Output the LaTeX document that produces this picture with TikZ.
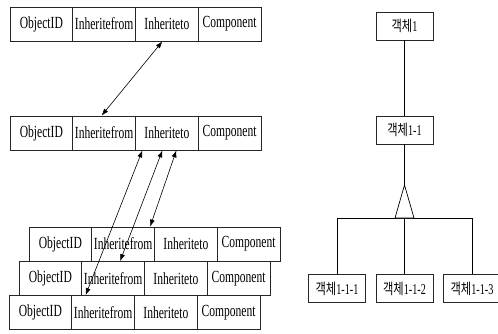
\documentclass[tikz,border=0pt]{standalone}
\usepackage{fontspec}
\setmainfont{Liberation Serif}[FakeStretch=0.68]
\newfontfamily\krfont{Noto Sans CJK KR}[FakeStretch=0.75]
\usetikzlibrary{arrows.meta,calc}
\tikzset{
  fld/.style={draw=black!85, line width=0.8pt, minimum width=62.75pt, minimum height=34pt,
    inner sep=0pt, font=\fontsize{17}{17}\selectfont},
  obj/.style={draw=black!85, line width=0.8pt, minimum width=57pt, minimum height=28pt,
    inner sep=0pt, font=\fontsize{15}{15}\selectfont},
  dbl/.style={{Latex[length=7pt,width=5pt]}-{Latex[length=7pt,width=5pt]}, line width=0.6pt},
  link/.style={line width=0.7pt},
}
\newcommand\fieldrow[3]{%
  \node[fld] (#1a) at (#2+31.375,#3) {ObjectID};
  \node[fld] (#1b) at (#2+94.125,#3) {Inheritefrom};
  \node[fld] (#1c) at (#2+156.875,#3) {Inheriteto};
  \node[fld] (#1d) at (#2+219.625,#3) {Component};
}
\begin{document}
\begin{tikzpicture}[x=1pt,y=-1pt]
\useasboundingbox (0,0) rectangle (498,334);
% left: record rows
\fieldrow{ra}{10}{24}
\fieldrow{rb}{10}{133}
\fieldrow{rA}{29}{244}
\fieldrow{rB}{19}{278.5}
\fieldrow{rC}{9}{312.5}
\draw[dbl] ([xshift=-2.5pt]rbb.north) -- ([xshift=-4.5pt]rac.south);
\draw[dbl] ([xshift=-24.5pt]rbc.south) -- ([xshift=-17.5pt]rCb.north);
\draw[dbl] ([xshift=-4.5pt]rbc.south) -- ([xshift=7pt]rBb.north);
\draw[dbl] ([xshift=9.5pt]rbc.south) -- ([xshift=27pt]rAb.north);
% right: object hierarchy
\node[obj] (k1) at (404.5,26) {{\krfont 객체}1};
\node[obj] (k11) at (404.5,130) {{\krfont 객체}1-1};
\node[obj] (k111) at (337,288.5) {{\krfont 객체}1-1-1};
\node[obj] (k112) at (404.5,288.5) {{\krfont 객체}1-1-2};
\node[obj] (k113) at (472,288.5) {{\krfont 객체}1-1-3};
\coordinate (apex) at (404.5,185);
\coordinate (bl) at (395,218);
\coordinate (br) at (414,218);
\coordinate (bus) at (404.5,218);
\draw[link] (k1) -- (k11);
\draw[link] (k11.south) -- (apex);
\draw[link] (k111.north) -- (k111.north |- bus) -- (k113.north |- bus) -- (k113.north);
\draw[link] (bus) -- (k112.north);
\draw[link, fill=white] (apex) -- (bl) -- (br) -- cycle;
\end{tikzpicture}
\end{document}
